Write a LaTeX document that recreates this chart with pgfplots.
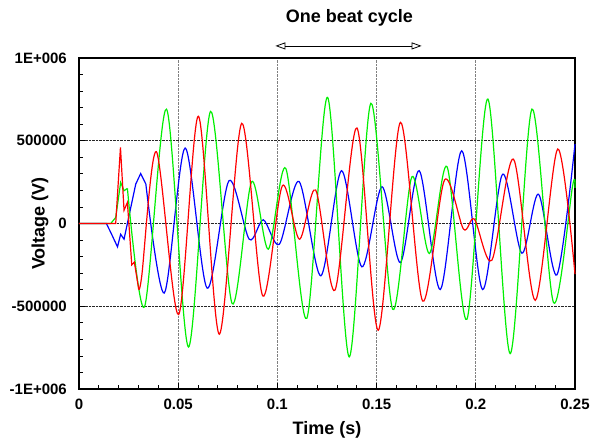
\documentclass[border=0pt]{standalone}
\usepackage{fontspec}
\setmainfont{Liberation Sans}
\usepackage{pgfplots}
\pgfplotsset{compat=1.18}
\usetikzlibrary{arrows.meta}

\definecolor{cred}{RGB}{255,0,0}
\definecolor{cgreen}{RGB}{0,240,0}
\definecolor{cblue}{RGB}{0,0,255}

\begin{document}
\begin{tikzpicture}
\path[use as bounding box] (-79pt,-52pt) rectangle (512pt,389pt);
\begin{axis}[
  at={(0,0)}, anchor=south west,
  scale only axis,
  width=496pt, height=331pt,
  xmin=0, xmax=0.25,
  ymin=-1e6, ymax=1e6,
  xtick={0,0.05,0.1,0.15,0.2,0.25},
  xticklabels={0,0.05,0.1,0.15,0.2,0.25},
  ytick={-1e6,-5e5,0,5e5,1e6},
  yticklabels={-1E+006,-500000,0,500000,1E+006},
  scaled ticks=false,
  minor x tick num=4,
  minor y tick num=4,
  tick pos=left,
  tick align=inside,
  major tick length=6pt,
  minor tick length=4pt,
  tick style={black, line width=0.8pt},
  axis line style={line width=1.6pt},
  grid=major,
  major x grid style={densely dotted, black!50, line width=0.8pt},
  major y grid style={densely dotted, black!85, line width=0.8pt},
  tick label style={font=\fontsize{15}{18}\selectfont\bfseries},
  xticklabel style={anchor=north, inner sep=0pt, yshift=-10pt},
  yticklabel style={anchor=east, inner sep=0pt, xshift=-12pt},
  label style={font=\fontsize{18}{21}\selectfont\bfseries},
  xlabel={Time (s)},
  ylabel={Voltage (V)},
  xlabel style={at={(axis description cs:0.5,-0.136)}, anchor=base},
  ylabel style={at={(axis description cs:-0.0786,0.5)}, anchor=center},
  clip=false,
]
% blue
\addplot[cblue, line width=1.2pt] coordinates {
  (0,0) (0.0138,0) (0.016,-54000) (0.0194,-141000) (0.021,-65000)
  (0.0227,-95000) (0.0286,238000) (0.0311,302000) (0.0337,238000)
};
\addplot[cblue, line width=1.2pt, smooth] coordinates {
  (0.0337,238000) (0.0430,-420000) (0.0535,456000) (0.0646,-391000)
  (0.0756,258000) (0.0858,-95000) (0.0929,22000) (0.1010,-125000)
  (0.1109,254000) (0.1219,-316000) (0.1323,319000) (0.1426,-262000)
  (0.1527,222000) (0.1620,-236000) (0.1715,319000) (0.1821,-399000)
  (0.1929,439000) (0.2034,-399000) (0.2135,298000) (0.2232,-179000)
  (0.2316,177000) (0.2409,-310000) (0.25,480000)
};
% green
\addplot[cgreen, line width=1.2pt] coordinates {
  (0,0) (0.016,0) (0.0185,36000) (0.021,248000) (0.0227,198000)
  (0.0244,212000)
};
\addplot[cgreen, line width=1.2pt, smooth] coordinates {
  (0.0244,212000) (0.0330,-504000) (0.0441,691000) (0.0552,-746000)
  (0.0663,677000) (0.0772,-484000) (0.0870,252000) (0.0954,-155000)
  (0.1042,333000) (0.1148,-573000) (0.1253,762000) (0.1362,-806000)
  (0.1471,726000) (0.1581,-518000) (0.1678,282000) (0.1766,-181000)
  (0.1855,343000) (0.1955,-579000) (0.2061,752000) (0.2173,-786000)
  (0.2283,691000) (0.2392,-478000) (0.2488,228000) (0.25,215000)
};
% red
\addplot[cred, line width=1.2pt] coordinates {
  (0,0) (0.0185,0) (0.0209,460000) (0.0227,80000) (0.0244,127000)
  (0.0266,-250000) (0.0279,-234000) (0.0300,-390000)
};
\addplot[cred, line width=1.2pt, smooth] coordinates {
  (0.0300,-390000) (0.0316,-320000) (0.0390,434000) (0.0502,-550000)
  (0.0602,648000) (0.0707,-669000) (0.0820,605000) (0.0926,-437000)
  (0.1025,228000) (0.1111,-95000) (0.1193,202000) (0.1290,-403000)
  (0.1401,577000) (0.1508,-645000) (0.1620,611000) (0.1732,-468000)
  (0.1842,262000) (0.1938,-34000) (0.1993,26000) (0.2081,-222000)
  (0.2190,389000) (0.2300,-464000) (0.2413,450000) (0.25,-306000)
};
% annotation
\draw[{Triangle[open,length=10pt,width=7pt]}-{Triangle[open,length=10pt,width=7pt]}, line width=0.8pt]
  (axis cs:0.0990,1.073e6) -- (axis cs:0.1727,1.073e6);
\node[anchor=base, inner sep=0pt, font=\fontsize{18}{21}\selectfont\bfseries]
  at (axis cs:0.1363,1.212e6) {One beat cycle};
\end{axis}
\end{tikzpicture}
\end{document}
